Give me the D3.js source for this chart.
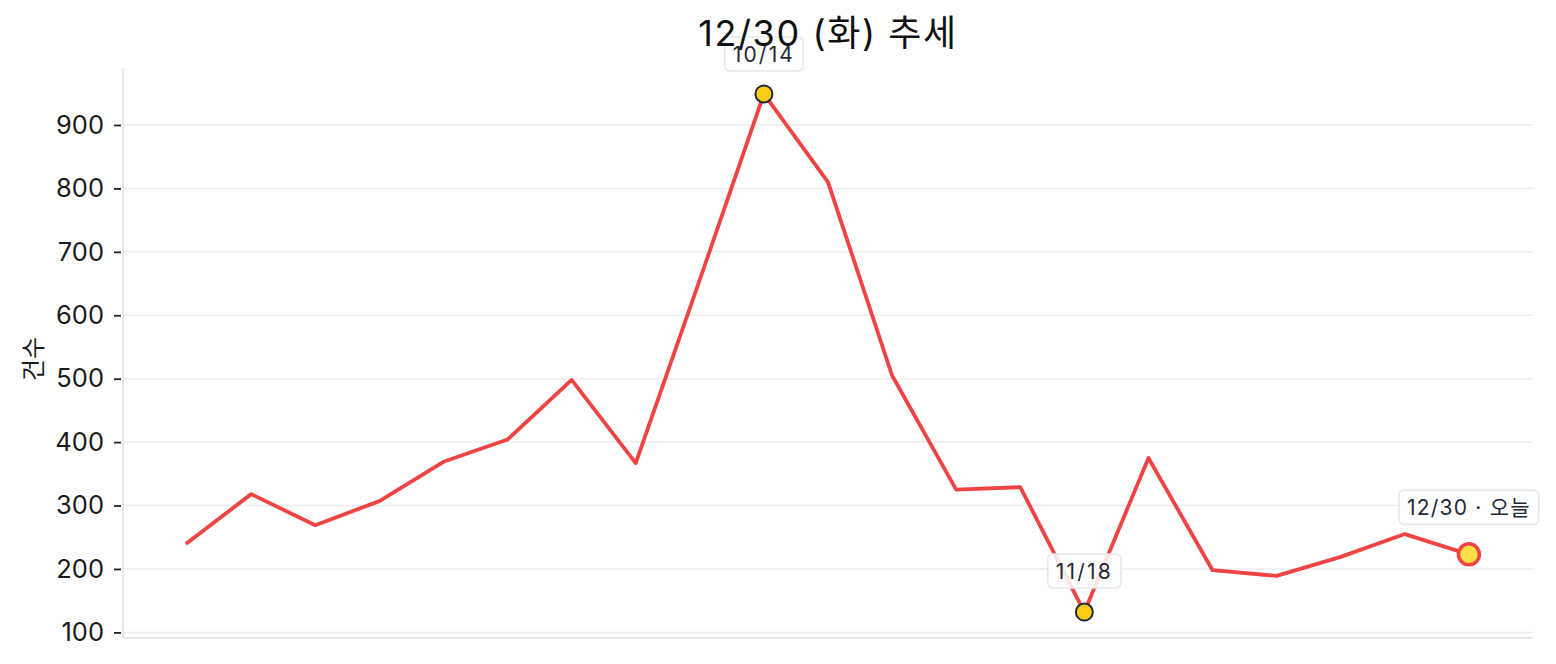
<!DOCTYPE html>
<html>
<head>
<meta charset="utf-8">
<script src="https://cdn.jsdelivr.net/npm/d3@7"></script>
<style>
  body { margin: 0; background: #fff; }
  .chart { width: 1556px; height: 664px; }
  text { font-family: Inter, "Noto Sans CJK KR", sans-serif; }
</style>
</head>
<body>
<div class="chart"></div>
<script>
// weekly counts (Tuesdays), 8/12 .. 12/30
const dates = ['8/12', '8/19', '8/26', '9/2', '9/9', '9/16', '9/23', '9/30', '10/7', '10/14',
  '10/21', '10/28', '11/4', '11/11', '11/18', '11/25', '12/2', '12/9', '12/16', '12/23', '12/30'];
const counts = [241, 318, 269, 307, 369, 404, 498, 367, 656, 949,
  810, 505, 325, 329, 132, 375, 198, 189, 219, 255, 223];
const yTicks = [100, 200, 300, 400, 500, 600, 700, 800, 900];
const title = '12/30 (화) 추세';
const yLabel = '건수';
const todayLabel = '12/30 · 오늘';

function visualize() {
  const width = 1556, height = 664;
  const margins = { left: 123, right: 23, top: 68, bottom: 26 };

  const svg = d3.select('.chart')
    .append('svg')
    .attr('width', width)
    .attr('height', height);

  const n = counts.length;
  const xScale = d3.scaleLinear()
    .domain([-1, n])
    .range([margins.left, width - margins.right]);

  // matplotlib style 5% padding
  const lo = d3.min(counts), hi = d3.max(counts), pad = (hi - lo) * 0.05;
  const yScale = d3.scaleLinear()
    .domain([lo - pad, hi + pad])
    .range([height - margins.bottom, margins.top]);

  // grid
  svg.append('g')
    .selectAll('line')
    .data(yTicks)
    .enter()
    .append('line')
    .attr('x1', margins.left)
    .attr('x2', width - margins.right)
    .attr('y1', d => yScale(d))
    .attr('y2', d => yScale(d))
    .style('stroke', '#ececec')
    .style('stroke-width', 1.5);

  // y axis
  const yAxis = d3.axisLeft(yScale)
    .tickValues(yTicks)
    .tickSize(7)
    .tickPadding(10);

  const yG = svg.append('g')
    .attr('transform', `translate(${margins.left - 2}, 0)`)
    .call(yAxis);
  yG.select('.domain').remove();
  yG.selectAll('line').style('stroke', '#222').style('stroke-width', 1.8);
  yG.selectAll('text')
    .style('font-size', '25.5px')
    .style('fill', '#1a1a1a')
    .style('font-family', 'Inter, "Noto Sans CJK KR", sans-serif');

  // spines
  svg.append('line')
    .attr('x1', margins.left).attr('x2', margins.left)
    .attr('y1', margins.top).attr('y2', height - margins.bottom)
    .style('stroke', '#e6e6eb').style('stroke-width', 2);
  svg.append('line')
    .attr('x1', margins.left).attr('x2', width - margins.right)
    .attr('y1', height - margins.bottom).attr('y2', height - margins.bottom)
    .style('stroke', '#e6e6eb').style('stroke-width', 2);

  // line
  const line = d3.line()
    .x((d, i) => xScale(i))
    .y(d => yScale(d));

  svg.append('path')
    .datum(counts)
    .attr('d', line)
    .style('fill', 'none')
    .style('stroke', '#ef4444')
    .style('stroke-width', 3.8)
    .style('stroke-linejoin', 'round')
    .style('stroke-linecap', 'round');

  // highlighted points
  const iMax = d3.maxIndex(counts), iMin = d3.minIndex(counts), iLast = n - 1;
  const marks = [
    { i: iMax, label: dates[iMax], r: 8.5, fill: '#facc15', stroke: '#1f2937', sw: 2, off: 23, ls: 2.2 },
    { i: iMin, label: dates[iMin], r: 8.5, fill: '#facc15', stroke: '#1f2937', sw: 2, off: 24, ls: 2.2 },
    { i: iLast, label: todayLabel, r: 10.5, fill: '#fde047', stroke: '#ef4444', sw: 3.5, off: 30, ls: 1.2 }
  ];

  svg.selectAll('.hi-point')
    .data(marks)
    .enter()
    .append('circle')
    .classed('hi-point', true)
    .attr('cx', d => xScale(d.i))
    .attr('cy', d => yScale(counts[d.i]))
    .attr('r', d => d.r)
    .style('fill', d => d.fill)
    .style('stroke', d => d.stroke)
    .style('stroke-width', d => d.sw);

  const labels = svg.selectAll('.hi-label')
    .data(marks)
    .enter()
    .append('g')
    .classed('hi-label', true)
    .attr('transform', d => `translate(${xScale(d.i)}, ${yScale(counts[d.i]) - d.off})`);

  labels.append('text')
    .attr('text-anchor', 'middle')
    .attr('y', -9)
    .style('font-size', '21px')
    .style('letter-spacing', d => d.ls + 'px')
    .style('fill', '#1f2937')
    .text(d => d.label);

  labels.each(function () {
    const g = d3.select(this);
    const bb = g.select('text').node().getBBox();
    g.insert('rect', 'text')
      .attr('x', bb.x - 8)
      .attr('y', -34)
      .attr('width', bb.width + 16)
      .attr('height', 34)
      .attr('rx', 5)
      .style('fill', 'rgba(255,255,255,0.85)')
      .style('stroke', '#e5e7eb')
      .style('stroke-width', 1.5);
  });

  // title and y label
  svg.append('text')
    .attr('x', (margins.left + width - margins.right) / 2)
    .attr('y', 46)
    .attr('text-anchor', 'middle')
    .style('font-size', '36px')
    .style('letter-spacing', '1.6px')
    .style('fill', '#111')
    .text(title);

  svg.append('text')
    .attr('transform', `translate(42, ${(margins.top + height - margins.bottom) / 2 + 6}) rotate(-90)`)
    .attr('text-anchor', 'middle')
    .style('font-size', '24px')
    .style('fill', '#1a1a1a')
    .text(yLabel);
}

visualize();
</script>
</body>
</html>
